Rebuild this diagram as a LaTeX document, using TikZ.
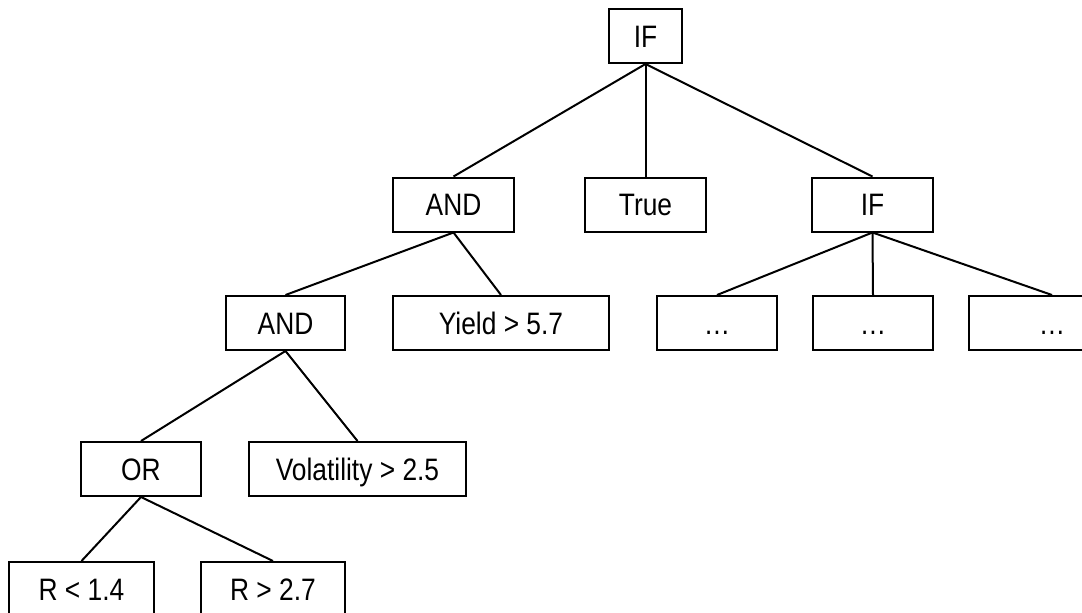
\documentclass[tikz,border=0pt]{standalone}
\usepackage{fontspec}
\setmainfont{Liberation Sans}[FakeStretch=0.85]
\usepackage{tikz}
\usetikzlibrary{positioning}

\begin{document}
\begin{tikzpicture}[
    x=1pt, y=-1pt,
    box/.style={
      rectangle, draw=black, line width=2pt,
      align=center, font=\fontsize{31}{37}\selectfont,
      minimum height=54pt, inner sep=0pt,
      text height=22pt, text depth=0pt
    },
    link/.style={line width=2pt, draw=black}
  ]
    \useasboundingbox (0,0) rectangle (1082,613);
    \begin{scope}
    \clip (0,0) rectangle (1082,613);
    % root and first level
    \node[box, minimum width=73pt] (if1) at (645.5,36) {IF};
    \node[box, minimum width=121pt] (and1) at (453.5,204.5) {AND};
    \node[box, minimum width=121pt] (true) at (645.5,204.5) {True};
    \node[box, minimum width=121pt] (if2) at (872.5,204.5) {IF};
    % second level
    \node[box, minimum width=119pt] (and2) at (285.5,323) {AND};
    \node[box, minimum width=216pt] (yield) at (501,323) {Yield > 5.7};
    \node[box, minimum width=120pt] (more1) at (717,323) {\dots};
    \node[box, minimum width=120pt] (more2) at (873,323) {\dots};
    \node[box, minimum width=166pt] (more3) at (1052,323) {\dots};
    % third level
    \node[box, minimum width=120pt] (or) at (141,469) {OR};
    \node[box, minimum width=217pt] (vol) at (357.5,469) {Volatility > 2.5};
    % leaves
    \node[box, minimum width=145pt] (rlow) at (81.5,589) {R < 1.4};
    \node[box, minimum width=144pt] (rhigh) at (273,589) {R > 2.7};
    \draw[link] (if1.south) -- (and1.north);
    \draw[link] (if1.south) -- (true.north);
    \draw[link] (if1.south) -- (if2.north);
    \draw[link] (and1.south) -- (and2.north);
    \draw[link] (and1.south) -- (yield.north);
    \draw[link] (if2.south) -- (more1.north);
    \draw[link] (if2.south) -- (more2.north);
    \draw[link] (if2.south) -- (more3.north);
    \draw[link] (and2.south) -- (or.north);
    \draw[link] (and2.south) -- (vol.north);
    \draw[link] (or.south) -- (rlow.north);
    \draw[link] (or.south) -- (rhigh.north);
    \end{scope}
  \end{tikzpicture}
\end{document}
